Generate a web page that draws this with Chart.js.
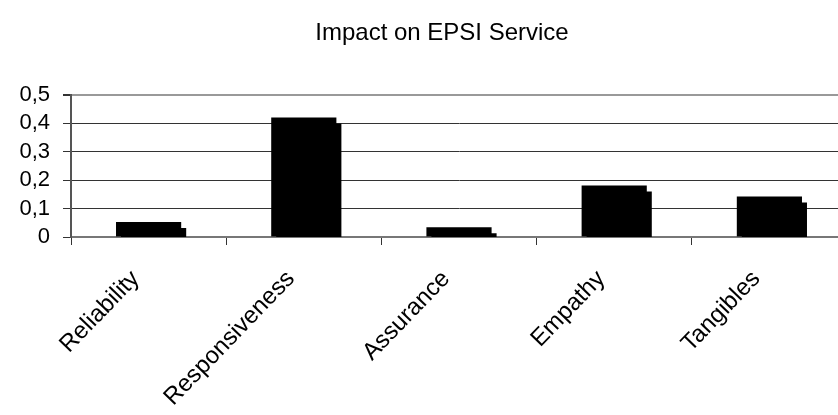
<!DOCTYPE html>
<html>
<head>
<meta charset="utf-8">
<script src="https://cdn.jsdelivr.net/npm/chart.js@4/dist/chart.umd.min.js"></script>
<style>
  html, body { margin: 0; padding: 0; overflow: hidden; background: #ffffff; }
  #wrap { position: relative; width: 884px; height: 415px; }
</style>
</head>
<body>
<div id="wrap"><canvas id="c"></canvas></div>
<script>
const titleText = 'Impact on EPSI Service';
const categories = ['Reliability', 'Responsiveness', 'Assurance', 'Empathy', 'Tangibles'];
const impactValues = [0.053, 0.421, 0.034, 0.181, 0.143];
const yTickLabels = ['0', '0,1', '0,2', '0,3', '0,4', '0,5'];

const FONT = '"Liberation Sans", Arial, sans-serif';

const shadowPlugin = {
  id: 'barShadow',
  beforeDatasetsDraw(chart) {
    const ctx = chart.ctx;
    ctx.save();
    ctx.shadowColor = '#000000';
    ctx.shadowBlur = 0;
    ctx.shadowOffsetX = 5;
    ctx.shadowOffsetY = 6;
  },
  afterDatasetsDraw(chart) {
    chart.ctx.restore();
  }
};

new Chart(document.getElementById('c'), {
  type: 'bar',
  data: {
    labels: categories,
    datasets: [{
      label: 'Impact',
      data: impactValues,
      backgroundColor: '#000000',
      borderWidth: 0,
      categoryPercentage: 1,
      barPercentage: 0.42,
      clip: 0
    }]
  },
  options: {
    responsive: true,
    maintainAspectRatio: false,
    animation: false,
    layout: { padding: 0 },
    plugins: {
      legend: { display: false },
      tooltip: { enabled: false },
      title: {
        display: true,
        text: titleText,
        color: '#000000',
        font: { family: FONT, size: 24, weight: 'normal', lineHeight: 1.2 },
        padding: { top: 19, bottom: 47.2 }
      }
    },
    scales: {
      x: {
        grid: {
          display: true,
          drawOnChartArea: false,
          drawTicks: true,
          tickLength: 8,
          color: '#333333',
          offset: true
        },
        border: { display: true, color: '#777777', width: 2 },
        ticks: {
          color: '#000000',
          font: { family: FONT, size: 24 },
          minRotation: 46,
          maxRotation: 46,
          padding: 20,
          labelOffset: -13,
          autoSkip: false
        },
        afterFit(scale) { scale.height = 178; }
      },
      y: {
        min: 0,
        max: 0.5,
        grid: {
          color(ctx) {
            const v = ctx.tick ? ctx.tick.value : 0;
            if (Math.abs(v - 0.5) < 1e-6) return '#999999';
            if (Math.abs(v) < 1e-6) return '#777777';
            return '#333333';
          },
          lineWidth(ctx) {
            const v = ctx.tick ? ctx.tick.value : 0;
            if (Math.abs(v - 0.5) < 1e-6) return 2;
            return 1;
          },
          tickColor: '#333333',
          tickLength: 8,
          drawTicks: true
        },
        border: { display: true, color: '#555555', width: 2 },
        ticks: {
          stepSize: 0.1,
          autoSkip: false,
          color: '#000000',
          font: { family: FONT, size: 22 },
          padding: 13,
          callback(value) { return yTickLabels[Math.round(value * 10)]; }
        },
        afterFit(scale) { scale.width = 71; }
      },
      yRightSpacer: {
        type: 'linear',
        position: 'right',
        display: true,
        min: 0,
        max: 0.5,
        grid: { display: false, drawTicks: false },
        border: { display: false },
        ticks: { display: false },
        afterFit(scale) { scale.width = 37; }
      }
    }
  },
  plugins: [shadowPlugin]
});
</script>
</body>
</html>
